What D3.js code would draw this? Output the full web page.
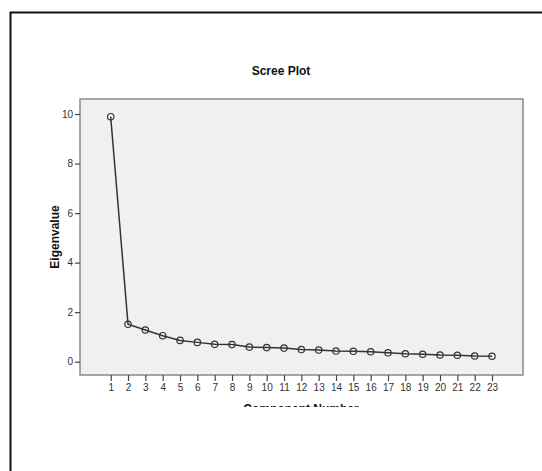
<!DOCTYPE html>
<html>
<head>
<meta charset="utf-8">
<script src="https://cdn.jsdelivr.net/npm/d3@7"></script>
<style>
  body { margin: 0; background: #fff; }
  svg text { font-family: "Liberation Sans", Arial, sans-serif; }
</style>
</head>
<body>
<div id="chart"></div>
<script>
// scree plot, eigenvalues
var components = d3.range(1, 24)
var eigenvalues = [9.89, 1.51, 1.28, 1.05, 0.86, 0.78, 0.70, 0.69, 0.59, 0.57, 0.55, 0.49,
                   0.47, 0.43, 0.42, 0.40, 0.36, 0.32, 0.30, 0.27, 0.26, 0.23, 0.22]
var yTicks = [0, 2, 4, 6, 8, 10]

var W = 542, H = 471
var plot = {left: 80, top: 99, right: 523, bottom: 375}

var svg = d3.select('#chart').append('svg')
    .attr('width', W)
    .attr('height', H)

// outer frame, runs off the right and bottom edges
svg.append('rect')
    .attr('x', 10.5).attr('y', 12.5)
    .attr('width', W + 20).attr('height', H + 20)
    .attr('fill', 'none')
    .attr('stroke', '#111')
    .attr('stroke-width', 2)

var x = d3.scaleLinear()
    .domain([1, 23])
    .range([110.7, 492])

var y = d3.scaleLinear()
    .domain([0, 10])
    .range([361.7, 114])

svg.append('rect')
    .attr('x', plot.left).attr('y', plot.top)
    .attr('width', plot.right - plot.left)
    .attr('height', plot.bottom - plot.top)
    .attr('fill', '#f0f0f0')
    .attr('stroke', '#8a8a8a')
    .attr('stroke-width', 1.5)

var yAxis = svg.append('g')
    .attr('transform', 'translate(' + plot.left + ',0)')
    .call(d3.axisLeft(y).tickValues(yTicks).tickSize(5).tickPadding(2).tickFormat(d => d))
yAxis.select('.domain').remove()

var xAxis = svg.append('g')
    .attr('transform', 'translate(0,' + plot.bottom + ')')
    .call(d3.axisBottom(x).tickValues(components).tickSize(6).tickPadding(3).tickFormat(d => d))
xAxis.select('.domain').remove()

svg.selectAll('.tick line').attr('stroke', '#444').attr('stroke-width', 1.2)
svg.selectAll('.tick text')
    .attr('fill', '#333')
    .style('font-family', '"Liberation Sans", Arial, sans-serif')
    .style('font-size', '10px')

var pts = components.map((c, i) => ({c: c, v: eigenvalues[i]}))

svg.append('path')
    .attr('d', d3.line().x(d => x(d.c)).y(d => y(d.v))(pts))
    .attr('fill', 'none')
    .attr('stroke', '#333')
    .attr('stroke-width', 1.5)

svg.selectAll('circle.pt')
    .data(pts)
    .enter().append('circle')
    .attr('class', 'pt')
    .attr('cx', d => x(d.c))
    .attr('cy', d => y(d.v))
    .attr('r', 3.2)
    .attr('fill', 'none')
    .attr('stroke', '#333')
    .attr('stroke-width', 1.2)

// titles
svg.append('text')
    .attr('x', 281).attr('y', 75)
    .attr('text-anchor', 'middle')
    .attr('font-weight', 'bold')
    .attr('font-size', '12px')
    .attr('fill', '#111')
    .text('Scree Plot')

svg.append('text')
    .attr('transform', 'translate(59,' + (plot.top + plot.bottom) / 2 + ') rotate(-90)')
    .attr('text-anchor', 'middle')
    .attr('font-weight', 'bold')
    .attr('font-size', '12px')
    .attr('fill', '#111')
    .text('Eigenvalue')

// x label is cut off in the source image
svg.append('clipPath').attr('id', 'cut')
    .append('rect').attr('x', 0).attr('y', 0).attr('width', W).attr('height', 407)

svg.append('text')
    .attr('clip-path', 'url(#cut)')
    .attr('x', 301).attr('y', 413)
    .attr('text-anchor', 'middle')
    .attr('font-weight', 'bold')
    .attr('font-size', '12px')
    .attr('fill', '#111')
    .text('Component Number')
</script>
</body>
</html>
